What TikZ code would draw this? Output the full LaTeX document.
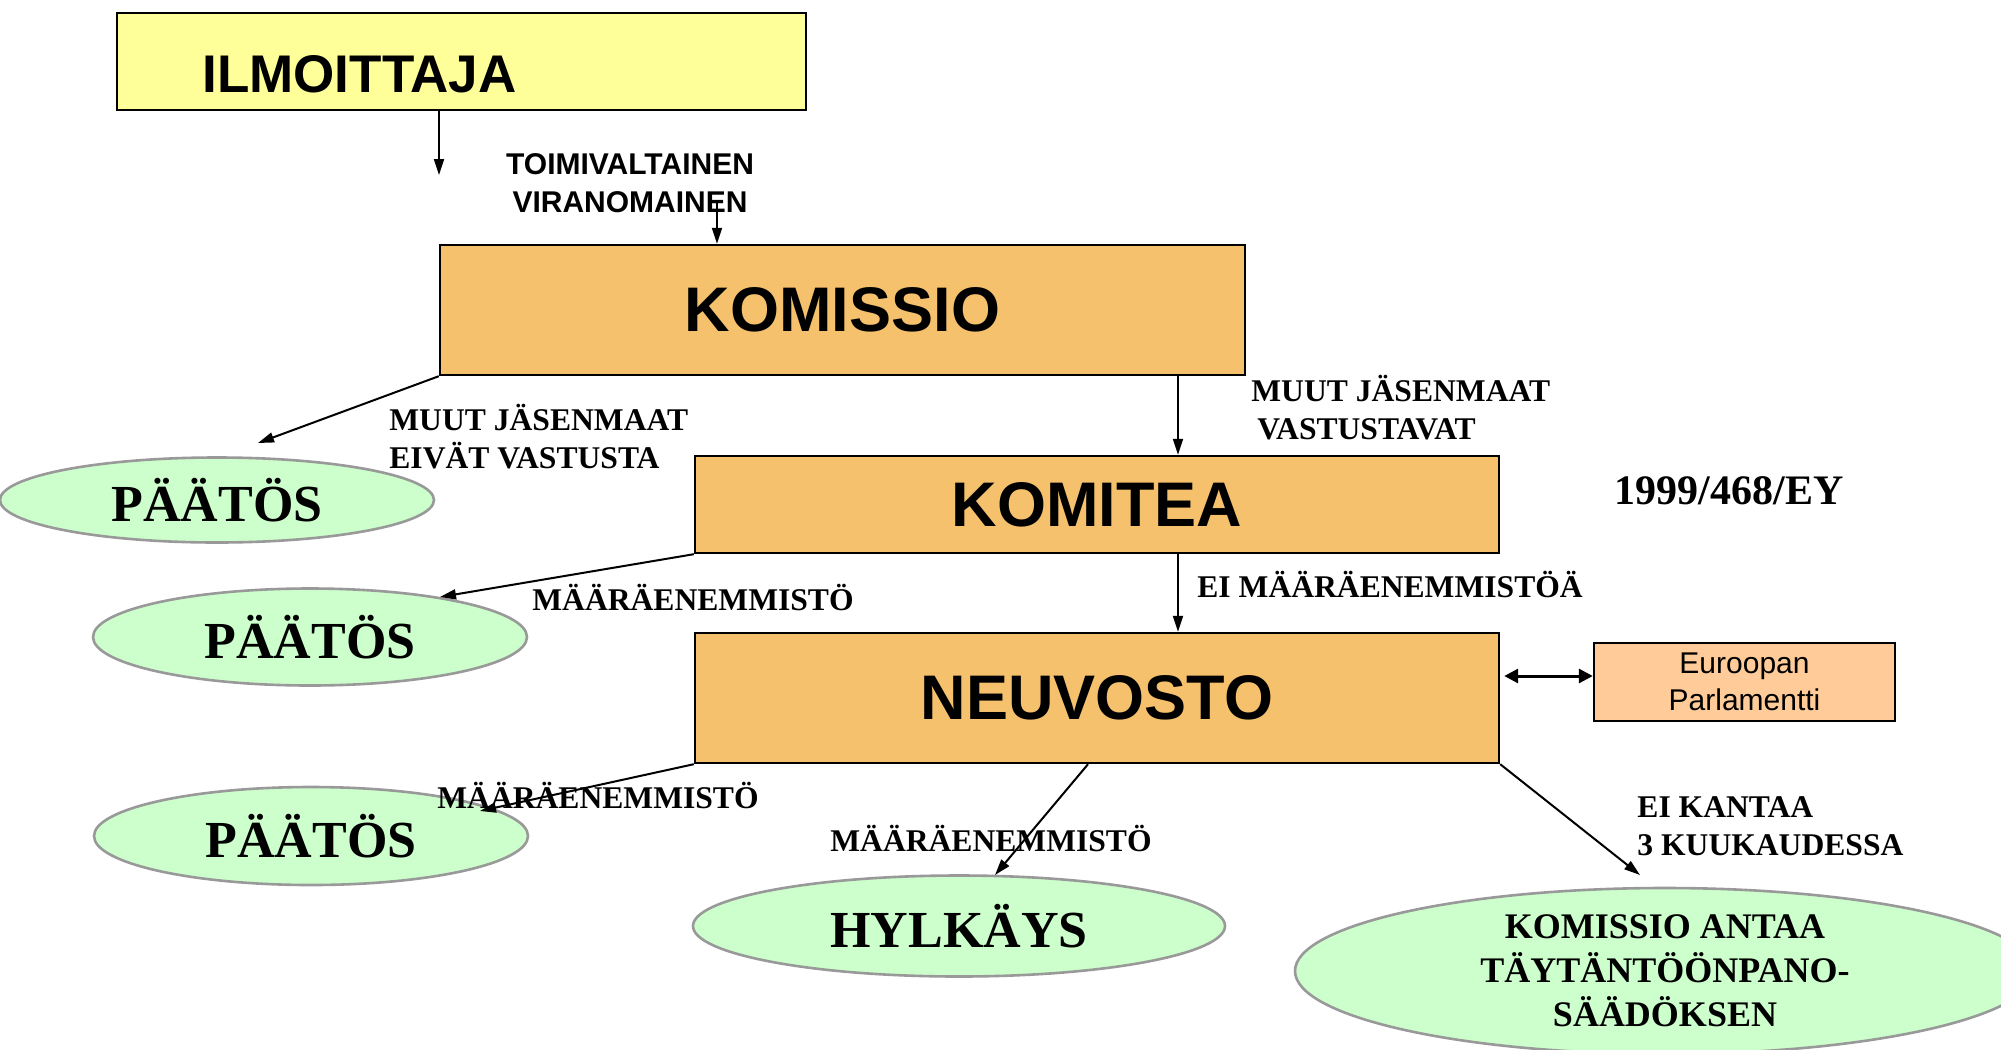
\documentclass[tikz,border=0pt]{standalone}
\usepackage{fontspec}
\setmainfont{Liberation Serif}
\newfontfamily\arialf{Liberation Sans}
\usetikzlibrary{shapes.geometric,arrows.meta}
\definecolor{orangebox}{HTML}{F5C16C}
\definecolor{yellowbox}{HTML}{FFFF99}
\definecolor{peachbox}{HTML}{FFCC99}
\definecolor{greenell}{HTML}{CCFFCC}
\definecolor{grayline}{HTML}{999999}
\begin{document}
\begin{tikzpicture}[x=0.5pt,y=-0.5pt,
  bigbox/.style={draw=black, line width=1.2pt, fill=orangebox, inner sep=0pt,
     font=\arialf\bfseries\fontsize{31.5}{36}\selectfont},
  ell/.style={ellipse, draw=grayline, line width=1.3pt, fill=greenell, inner sep=0pt},
  elltext/.style={font=\bfseries\fontsize{26}{30}\selectfont},
  slabel/.style={font=\bfseries\fontsize{15.8}{19}\selectfont, inner sep=0pt},
  arr/.style={line width=1pt, -{Triangle[length=8pt,width=5pt]}},
  darr/.style={line width=1.5pt, {Triangle[length=7pt,width=7pt]}-{Triangle[length=7pt,width=7pt]}}
]
\useasboundingbox (0,0) rectangle (2001,1049);
\fill[white] (0,0) rectangle (2001,1049);

% boxes
\node[draw=black, line width=1.2pt, fill=yellowbox, minimum width=344.5pt, minimum height=48.5pt, inner sep=0pt] (ilm) at (461.5,61.5) {};
\node[anchor=west, inner sep=0pt, font=\arialf\bfseries\fontsize{26.5}{30}\selectfont] (ilmtext) at (202,74) {ILMOITTAJA};
\node[bigbox, minimum width=402.5pt, minimum height=65pt] (komissio) at (842.5,310) {KOMISSIO};
\node[bigbox, minimum width=402pt, minimum height=48.5pt] (komitea) at (1097,504.5) {KOMITEA};
\node[bigbox, minimum width=402pt, minimum height=65pt] (neuvosto) at (1097,698) {NEUVOSTO};
\node[draw=black, line width=1.2pt, fill=peachbox, minimum width=150.5pt, minimum height=39pt, inner sep=0pt, align=center,
  font=\arialf\fontsize{15}{18.5}\selectfont] (parl) at (1744.5,682) {Euroopan\\Parlamentti};

% ellipses
\node[ell, minimum width=217pt, minimum height=42.5pt] (p1) at (217,500) {};
\node[elltext] at (p1) {PÄÄTÖS};
\node[ell, minimum width=217pt, minimum height=48.5pt] (p2) at (310,637) {};
\node[elltext] at (p2) {PÄÄTÖS};
\node[ell, minimum width=217pt, minimum height=49pt] (p3) at (311,836) {};
\node[elltext] at (p3) {PÄÄTÖS};
\node[ell, minimum width=266pt, minimum height=50.5pt] (hyl) at (959,926) {};
\node[elltext] at (hyl) {HYLKÄYS};
\node[ell, minimum width=370pt, minimum height=83pt] (kaa) at (1665,971) {};
\node[align=center, font=\bfseries\fontsize{18}{22}\selectfont] at (kaa) {KOMISSIO ANTAA\\TÄYTÄNTÖÖNPANO-\\SÄÄDÖKSEN};

% labels
\node[align=center, inner sep=0pt, font=\arialf\bfseries\fontsize{15}{19}\selectfont] (lblviran) at (630,183) {TOIMIVALTAINEN\\VIRANOMAINEN};
\node[slabel, anchor=west, align=left] (lbl1) at (389,437) {MUUT JÄSENMAAT\\EIVÄT VASTUSTA};
\node[slabel, anchor=west, align=left] (lbl2) at (1251,408) {MUUT JÄSENMAAT\\\hspace{3pt}VASTUSTAVAT};
\node[slabel] (lbl3) at (693,597) {MÄÄRÄENEMMISTÖ};
\node[slabel, anchor=west] (lbl4) at (1197,584) {EI MÄÄRÄENEMMISTÖÄ};
\node[slabel] (lbl5) at (598,795) {MÄÄRÄENEMMISTÖ};
\node[slabel] (lbl6) at (991,838) {MÄÄRÄENEMMISTÖ};
\node[slabel, anchor=west, align=left] (lbl7) at (1637,826) {EI KANTAA\\3 KUUKAUDESSA};
\node[inner sep=0pt, font=\bfseries\fontsize{21}{25}\selectfont] (ref) at (1729,491) {1999/468/EY};

% free ends
\coordinate (t1) at (439,175);
\coordinate (s2) at (717,200);
\coordinate (vx) at (1178,0);
\coordinate (e1) at (258,443);
\coordinate (e2) at (440,597);
\coordinate (e3) at (480,811);
\coordinate (n4) at (1088,0);
\coordinate (e4) at (995,875);
\coordinate (e5) at (1640,875);
\coordinate (dy) at (0,676);

% connectors
\draw[arr] (ilm.south -| t1) -- (t1);
\draw[arr] (s2) -- (s2 |- komissio.north);
\draw[arr] (komissio.south west) -- (e1);
\draw[arr] (komissio.south -| vx) -- (komitea.north -| vx);
\draw[arr] (komitea.south west) -- (e2);
\draw[arr] (komitea.south -| vx) -- (neuvosto.north -| vx);
\draw[arr] (neuvosto.south west) -- (e3);
\draw[arr] (neuvosto.south -| n4) -- (e4);
\draw[arr] (neuvosto.south east) -- (e5);
\draw[darr] ([xshift=2pt]neuvosto.east |- dy) -- (parl.west |- dy);
\end{tikzpicture}
\end{document}
